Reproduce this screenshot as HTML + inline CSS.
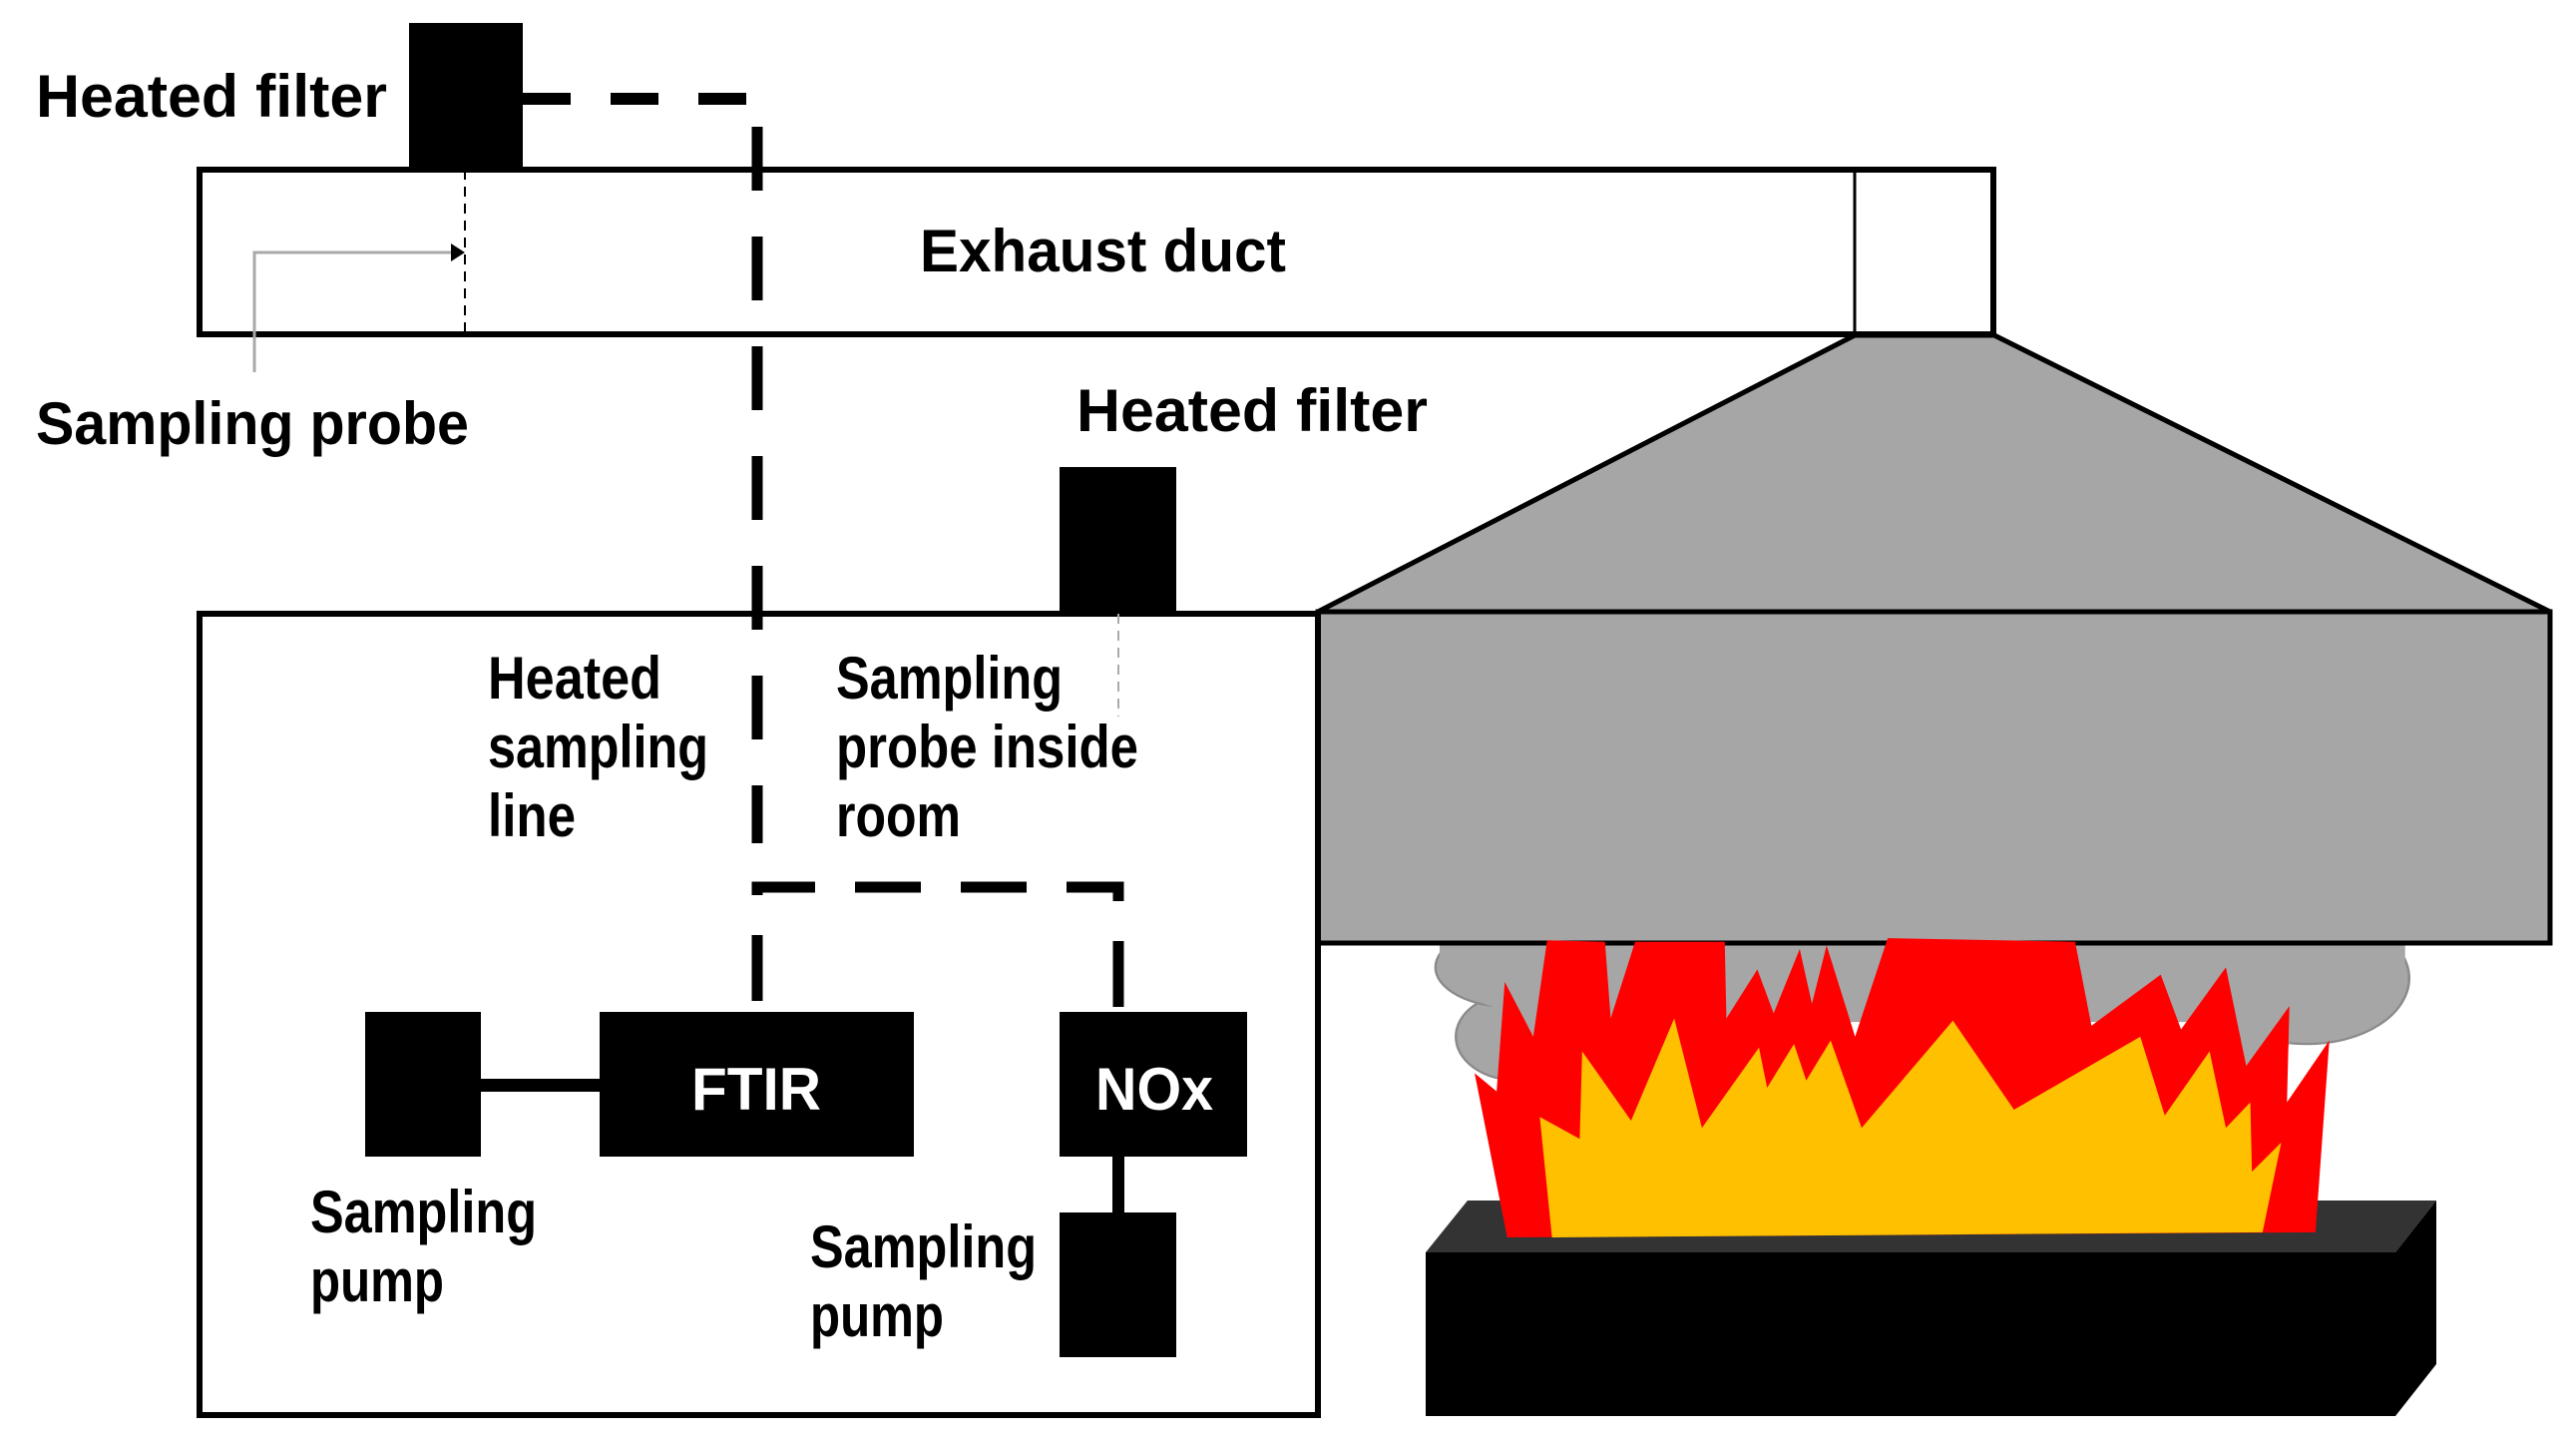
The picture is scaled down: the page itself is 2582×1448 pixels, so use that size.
<!DOCTYPE html>
<html><head><meta charset="utf-8"><style>
html,body{margin:0;padding:0;background:#fff;}
svg{display:block;}
text{font-family:"Liberation Sans",sans-serif;font-weight:bold;font-size:60px;fill:#000;}
</style></head><body>
<svg width="2582" height="1448" viewBox="0 0 2582 1448" xmlns="http://www.w3.org/2000/svg">
<rect x="200" y="170" width="1798" height="165" fill="#fff" stroke="#000" stroke-width="6"/>
<line x1="1859" y1="170" x2="1859" y2="335" stroke="#000" stroke-width="3"/>
<rect x="410" y="23" width="114" height="147" fill="#000"/>
<line x1="524" y1="99" x2="750" y2="99" stroke="#000" stroke-width="12" stroke-dasharray="48 40"/>
<line x1="759" y1="127" x2="759" y2="845" stroke="#000" stroke-width="11" stroke-dasharray="64 46"/>
<line x1="466" y1="170" x2="466" y2="335" stroke="#000" stroke-width="2" stroke-dasharray="10 7"/>
<polyline points="255,373 255,253 455,253" fill="none" stroke="#aaa" stroke-width="3"/>
<polygon points="466,253 452,244 452,262" fill="#000"/>
<polygon points="1859,336 1999,336 2556,613 1321,613" fill="#a6a6a6" stroke="#000" stroke-width="5" stroke-linejoin="round"/>
<g transform="translate(1300,300) scale(0.8167,0.7315)" fill="#a6a6a6" stroke="#8a8a8a" stroke-width="3">
<ellipse cx="270" cy="1010" rx="75" ry="60"/>
<ellipse cx="1240" cy="930" rx="125" ry="90"/>
<ellipse cx="265" cy="915" rx="95" ry="55"/>
<path d="M175,870 H1360 V930 Q1300,980 1200,990 L300,990 Q200,960 175,930 Z" stroke="none"/>
<ellipse cx="1180" cy="1000" rx="40" ry="60" stroke="none"/>
</g>
<rect x="1321" y="613" width="1235" height="332" fill="#a6a6a6" stroke="#000" stroke-width="5"/>
<polygon points="1471,1203 2442,1203 2401,1255 1429,1255" fill="#333"/>
<polygon points="2401,1255 2442,1203 2442,1367 2401,1419" fill="#000"/>
<rect x="1429" y="1255" width="972" height="164" fill="#000"/>
<g transform="translate(1300,300) scale(0.8167,0.7315)">
<polygon fill="#ff0000" points="258,1285 218,1060 245,1085 255,935 290,1010 307,878 378,880 385,985 415,880 525,880 527,985 565,918 585,978 617,890 632,965 650,885 685,1010 725,875 955,880 975,995 1060,925 1085,1000 1140,915 1165,1050 1218,968 1215,1100 1267,1015 1250,1278"/>
<polygon fill="#ffc000" points="313,1285 298,1120 347,1150 350,1030 410,1125 463,985 497,1135 567,1025 577,1080 610,1020 625,1070 655,1015 693,1135 805,988 880,1110 1035,1010 1065,1118 1120,1030 1140,1135 1170,1100 1172,1195 1208,1155 1185,1278"/>
</g>
<rect x="200" y="615" width="1121" height="803" fill="none" stroke="#000" stroke-width="6"/>
<rect x="1062" y="468" width="117" height="147" fill="#000"/>
<line x1="1121" y1="615" x2="1121" y2="718" stroke="#aaa" stroke-width="2" stroke-dasharray="10 7"/>
<polyline points="759,1013 759,889 1121,889 1121,1013" fill="none" stroke="#000" stroke-width="11" stroke-dasharray="66 40" stroke-dashoffset="-10"/>
<rect x="366" y="1014" width="116" height="145" fill="#000"/>
<rect x="482" y="1081" width="120" height="13" fill="#000"/>
<rect x="601" y="1014" width="315" height="145" fill="#000"/>
<rect x="1062" y="1014" width="188" height="145" fill="#000"/>
<rect x="1115" y="1159" width="12" height="58" fill="#000"/>
<rect x="1062" y="1215" width="117" height="145" fill="#000"/>
<text x="693" y="1112" style="fill:#fff" textLength="130" lengthAdjust="spacingAndGlyphs">FTIR</text>
<text x="1098" y="1112" style="fill:#fff" textLength="118" lengthAdjust="spacingAndGlyphs">NOx</text>
<text x="36" y="117" textLength="352" lengthAdjust="spacingAndGlyphs">Heated filter</text>
<text x="922" y="272" textLength="367" lengthAdjust="spacingAndGlyphs">Exhaust duct</text>
<text x="36" y="445" textLength="434" lengthAdjust="spacingAndGlyphs">Sampling probe</text>
<text x="1079" y="432" textLength="352" lengthAdjust="spacingAndGlyphs">Heated filter</text>
<text x="489" y="700" textLength="174" lengthAdjust="spacingAndGlyphs">Heated</text>
<text x="489" y="769" textLength="221" lengthAdjust="spacingAndGlyphs">sampling</text>
<text x="489" y="838" textLength="88" lengthAdjust="spacingAndGlyphs">line</text>
<text x="838" y="700" textLength="227" lengthAdjust="spacingAndGlyphs">Sampling</text>
<text x="838" y="769" textLength="303" lengthAdjust="spacingAndGlyphs">probe inside</text>
<text x="838" y="838" textLength="125" lengthAdjust="spacingAndGlyphs">room</text>
<text x="311" y="1235" textLength="227" lengthAdjust="spacingAndGlyphs">Sampling</text>
<text x="311" y="1304" textLength="134" lengthAdjust="spacingAndGlyphs">pump</text>
<text x="812" y="1270" textLength="227" lengthAdjust="spacingAndGlyphs">Sampling</text>
<text x="812" y="1339" textLength="134" lengthAdjust="spacingAndGlyphs">pump</text>
</svg>
</body></html>
